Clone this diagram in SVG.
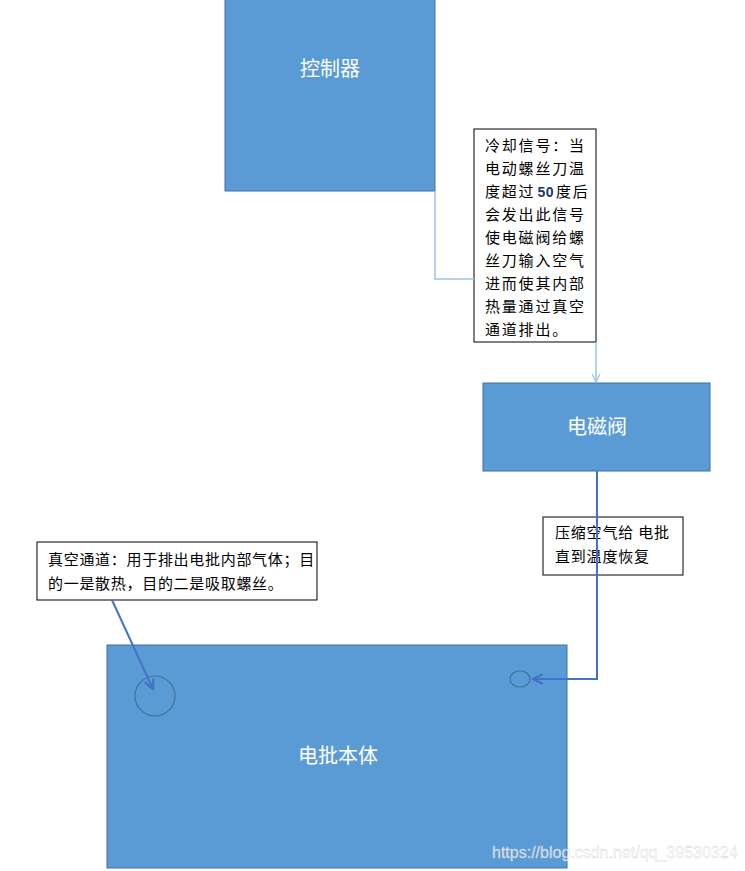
<svg xmlns="http://www.w3.org/2000/svg" width="745" height="871" viewBox="0 0 745 871">
<defs>
<style>
.node{fill:#5b9bd5;stroke:#41719c;stroke-width:1}
.ntext{font-family:"Noto Sans CJK SC","Liberation Sans",sans-serif;font-size:20px;fill:#ffffff;text-anchor:middle}
.box{fill:#ffffff;stroke:#000000;stroke-width:1}
.btext{font-family:"Noto Sans CJK SC","Liberation Sans",sans-serif;font-size:15px;fill:#000000}
.thin{fill:none;stroke:#9dc3e6;stroke-width:1.5}
.thick{fill:none;stroke:#4472c4;stroke-width:2}
</style>
<marker id="arrLight" viewBox="0 0 10 10" refX="9" refY="5" markerWidth="10" markerHeight="10" markerUnits="userSpaceOnUse" orient="auto">
<path d="M1,1 L9,5 L1,9" fill="none" stroke="#9dc3e6" stroke-width="1.2"/>
</marker>
<marker id="arrDark" viewBox="0 0 10 10" refX="9" refY="5" markerWidth="12" markerHeight="12" markerUnits="userSpaceOnUse" orient="auto">
<path d="M1,1 L9,5 L1,9" fill="none" stroke="#4472c4" stroke-width="2"/>
</marker>
</defs>
<rect width="745" height="871" fill="#ffffff"/>
<g id="controller">
<rect class="node" x="225" y="-1" width="210" height="192"/>
<text class="ntext" x="330" y="76">控制器</text>
</g>
<g id="cooling-note">
<rect class="box" x="474" y="129" width="122" height="213"/>
<text class="btext" letter-spacing="1.8">
<tspan x="485" y="151">冷却信号：当</tspan>
<tspan x="485" y="174">电动螺丝刀温</tspan>
<tspan x="485" y="197">度超过<tspan dx="2" fill="#1f3864" font-weight="bold" font-family="Liberation Sans, sans-serif" font-size="14" letter-spacing="0.5">50</tspan><tspan dx="2">度后</tspan></tspan>
<tspan x="485" y="220">会发出此信号</tspan>
<tspan x="485" y="243">使电磁阀给螺</tspan>
<tspan x="485" y="266">丝刀输入空气</tspan>
<tspan x="485" y="289">进而使其内部</tspan>
<tspan x="485" y="312">热量通过真空</tspan>
<tspan x="485" y="335">通道排出。</tspan>
</text>
</g>
<g id="valve">
<rect class="node" x="483" y="383" width="227" height="88"/>
<text class="ntext" x="597" y="434" font-size="18">电磁阀</text>
</g>
<g id="air-note">
<rect class="box" x="543" y="517" width="140" height="58"/>
<text class="btext" font-size="14.5" letter-spacing="0.8">
<tspan x="555" y="538">压缩空气给 电批</tspan>
<tspan x="555" y="562">直到温度恢复</tspan>
</text>
</g>
<g id="vacuum-note">
<rect class="box" x="37" y="542" width="280" height="58"/>
<text class="btext" font-size="14.5" letter-spacing="0.7">
<tspan x="48" y="565">真空通道：用于排出电批内部气体；目</tspan>
<tspan x="48" y="589">的一是散热，目的二是吸取螺丝。</tspan>
</text>
</g>
<g id="body">
<rect class="node" x="107" y="645" width="460" height="223"/>
<text class="ntext" x="338" y="763">电批本体</text>
<circle cx="155" cy="696" r="20" fill="none" stroke="#41719c" stroke-width="1.2"/>
<ellipse cx="520" cy="679" rx="10" ry="8" fill="none" stroke="#41719c" stroke-width="1.2"/>
</g>
<g id="connectors">
<polyline class="thin" points="435,191 435,279 474,279"/>
<polyline class="thin" points="596,342 596,382" marker-end="url(#arrLight)"/>
<polyline class="thick" points="597,471 597,679 533,679" marker-end="url(#arrDark)"/>
<line class="thick" x1="112" y1="600" x2="153" y2="689" marker-end="url(#arrDark)"/>
</g>
<text x="492" y="858" font-family="Liberation Sans, sans-serif" font-size="16" fill="#ffffff" fill-opacity="0.75" stroke="#cccccc" stroke-width="0.3">https://blog.csdn.net/qq_39530324</text>
</svg>
